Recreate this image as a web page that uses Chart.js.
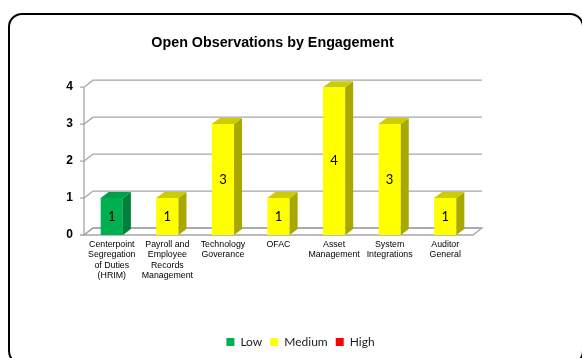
<!DOCTYPE html>
<html>
<head>
<meta charset="utf-8">
<script src="https://cdn.jsdelivr.net/npm/chart.js@4"></script>
<style>
  body { margin: 0; background: white; }
  #wrap { position: relative; width: 582px; height: 358px; overflow: hidden; }
  #frame { position: absolute; left: 8px; top: 13px; width: 576px; height: 352px; box-sizing: border-box;
           border: 2.5px solid #000; border-radius: 14px; }
  #chart { position: absolute; left: 0; top: 0; }
</style>
</head>
<body>
<div id="wrap">
  <div id="frame"></div>
  <canvas id="chart" width="582" height="358"></canvas>
</div>
<script>
// data
var engagements = [
  ["Centerpoint", "Segregation", "of Duties", "(HRIM)"],
  ["Payroll and", "Employee", "Records", "Management"],
  ["Technology", "Goverance"],
  ["OFAC"],
  ["Asset", "Management"],
  ["System", "Integrations"],
  ["Auditor", "General"]
]
var lowValues = [1, 0, 0, 0, 0, 0, 0]
var mediumValues = [0, 1, 3, 1, 4, 3, 1]
var highValues = [0, 0, 0, 0, 0, 0, 0]
var yTicks = [0, 1, 2, 3, 4]

// face colours for the fake 3d look: front, side, top
var faceColors = [
  ["#00b050", "#00803a", "#00a048"],
  ["#ffff00", "#a8a800", "#cccc00"],
  ["#ff0000", "#a00000", "#cc0000"]
]
var barDx = 8, barDy = -6
var wallDx = 9, wallDy = -7

var threeD = {
  id: "threeD",
  afterLayout: function(chart) {
    // legend sits a bit right of the title in the original
    chart.legend.left += 28
    chart.legend.right += 28
  },
  beforeDatasetsDraw: function(chart) {
    var ctx = chart.ctx
    var area = chart.chartArea
    var y = chart.scales.y
    var base = y.getPixelForValue(0)
    ctx.save()
    ctx.strokeStyle = "#a6a6a6"
    ctx.lineWidth = 1.3
    // floor
    ctx.fillStyle = "white"
    ctx.beginPath()
    ctx.moveTo(area.left, base)
    ctx.lineTo(area.right, base)
    ctx.lineTo(area.right + wallDx, base + wallDy)
    ctx.lineTo(area.left + wallDx, base + wallDy)
    ctx.closePath()
    ctx.fill()
    ctx.stroke()
    // back wall grid + side diagonals
    for (var i = 0; i < yTicks.length; i++) {
      var py = y.getPixelForValue(yTicks[i])
      ctx.beginPath()
      ctx.moveTo(area.left - 4, py)
      ctx.lineTo(area.left, py)
      ctx.lineTo(area.left + wallDx, py + wallDy)
      ctx.lineTo(area.right + wallDx, py + wallDy)
      ctx.stroke()
    }
    // front axis line
    ctx.beginPath()
    ctx.moveTo(area.left, y.getPixelForValue(yTicks[yTicks.length - 1]))
    ctx.lineTo(area.left, base)
    ctx.stroke()
    ctx.restore()
  },
  afterDatasetsDraw: function(chart) {
    var ctx = chart.ctx
    ctx.save()
    chart.data.datasets.forEach(function(ds, d) {
      var meta = chart.getDatasetMeta(d)
      meta.data.forEach(function(bar, i) {
        if (!ds.data[i]) return
        var p = bar.getProps(["x", "y", "base", "width"], true)
        var left = p.x - p.width / 2
        var right = p.x + p.width / 2
        // side
        ctx.fillStyle = faceColors[d][1]
        ctx.beginPath()
        ctx.moveTo(right, p.y)
        ctx.lineTo(right + barDx, p.y + barDy)
        ctx.lineTo(right + barDx, p.base + barDy)
        ctx.lineTo(right, p.base)
        ctx.closePath()
        ctx.fill()
        // top
        ctx.fillStyle = faceColors[d][2]
        ctx.beginPath()
        ctx.moveTo(left, p.y)
        ctx.lineTo(left + barDx, p.y + barDy)
        ctx.lineTo(right + barDx, p.y + barDy)
        ctx.lineTo(right, p.y)
        ctx.closePath()
        ctx.fill()
        // value label
        ctx.fillStyle = "#000"
        ctx.font = "13px Lato"
        ctx.textAlign = "center"
        ctx.textBaseline = "middle"
        ctx.fillText(ds.data[i], p.x, (p.y + p.base) / 2)
      })
    })
    ctx.restore()
  }
}

var chart = new Chart("chart", {
  type: "bar",
  data: {
    labels: engagements,
    datasets: [
      { label: "Low", data: lowValues, backgroundColor: faceColors[0][0], borderWidth: 0 },
      { label: "Medium", data: mediumValues, backgroundColor: faceColors[1][0], borderWidth: 0 },
      { label: "High", data: highValues, backgroundColor: faceColors[2][0], borderWidth: 0 }
    ]
  },
  options: {
    responsive: false,
    animation: false,
    layout: { padding: { left: 0, right: 37, top: 0, bottom: 0 } },
    datasets: { bar: { categoryPercentage: 1, barPercentage: 0.4 } },
    scales: {
      x: {
        stacked: true,
        grid: { display: false, drawTicks: false },
        border: { display: false },
        ticks: {
          color: "#000",
          font: { family: "'Liberation Sans'", size: 8.8, lineHeight: 1.14 },
          padding: 5, maxRotation: 0, autoSkip: false
        },
        afterFit: function(s) { s.height = 93 }
      },
      y: {
        stacked: true,
        min: 0, max: 4,
        grid: { display: false, drawTicks: false },
        border: { display: false },
        ticks: {
          stepSize: 1, color: "#000", padding: 11,
          font: { family: "'Liberation Sans'", size: 12, weight: "bold" }
        },
        afterFit: function(s) { s.width = 84 }
      },
      y2: {
        position: "right",
        grid: { display: false, drawTicks: false },
        border: { display: false },
        ticks: { display: false },
        afterFit: function(s) { s.width = 72 }
      }
    },
    plugins: {
      title: {
        display: true,
        text: "Open Observations by Engagement",
        color: "#000",
        font: { family: "'Liberation Sans'", size: 14.3, weight: "bold", lineHeight: 1.2 },
        padding: { top: 34, bottom: 36 }
      },
      legend: {
        position: "bottom",
        labels: {
          boxWidth: 8, boxHeight: 8, padding: 8, color: "#222",
          font: { family: "Lato", size: 12 }
        }
      },
      tooltip: { enabled: false }
    }
  },
  plugins: [threeD]
})
</script>
</body>
</html>
